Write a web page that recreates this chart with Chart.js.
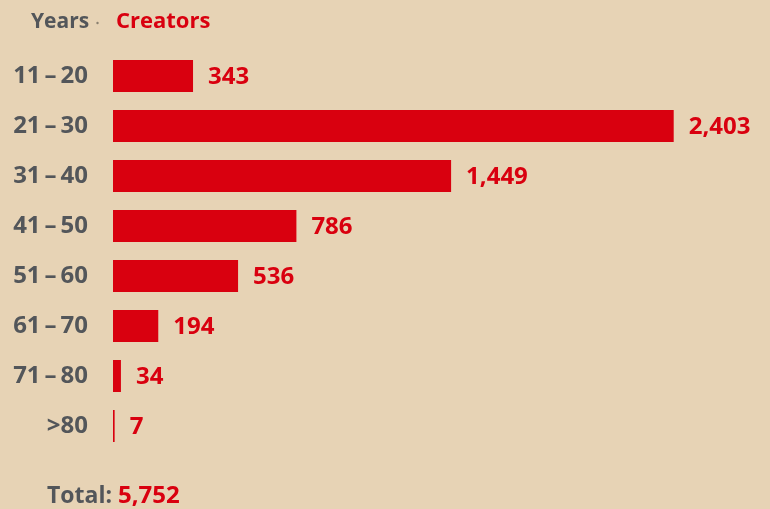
<!DOCTYPE html>
<html>
<head>
<meta charset="utf-8">
<script src="https://cdn.jsdelivr.net/npm/chart.js@4"></script>
<style>
  html, body { margin: 0; padding: 0; background: #e6d2b4; }
  #wrap { width: 770px; height: 509px; position: relative; }
</style>
</head>
<body>
<div id="wrap"><canvas id="c" width="770" height="509"></canvas></div>
<script>
const categories = ['11\u2009–\u200920', '21\u2009–\u200930', '31\u2009–\u200940', '41\u2009–\u200950', '51\u2009–\u200960', '61\u2009–\u200970', '71\u2009–\u200980', '>80'];
const creators = [343, 2403, 1449, 786, 536, 194, 34, 7];
const headerLeft = 'Years';
const headerRight = 'Creators';
const totalLabel = 'Total:';
const totalValue = 5752;

const RED = '#d9000f';
const GRAY = '#53565a';
const FONT = "'Open Sans', 'Noto Sans', sans-serif";

const bgPlugin = {
  id: 'bg',
  beforeDraw(chart) {
    const ctx = chart.ctx;
    ctx.save();
    ctx.fillStyle = '#e7d3b5';
    ctx.fillRect(0, 0, chart.width, chart.height);
    ctx.restore();
  }
};

const labelPlugin = {
  id: 'labels',
  afterDatasetsDraw(chart) {
    const ctx = chart.ctx;
    const meta = chart.getDatasetMeta(0);
    ctx.save();
    ctx.font = 'bold 24px ' + FONT;
    ctx.fillStyle = RED;
    ctx.textBaseline = 'middle';
    ctx.textAlign = 'left';
    meta.data.forEach((el, i) => {
      ctx.fillText(creators[i].toLocaleString('en-US'), el.x + 15, el.y + 1);
    });
    // header
    ctx.textBaseline = 'alphabetic';
    ctx.font = 'bold 21px ' + FONT;
    ctx.fillStyle = GRAY;
    ctx.fillText(headerLeft, 31, 28);
    ctx.font = 'bold 22px ' + FONT;
    ctx.fillStyle = RED;
    ctx.fillText(headerRight, 116, 28);
    ctx.fillStyle = '#8a8070';
    ctx.beginPath();
    ctx.arc(97.5, 23, 1.2, 0, Math.PI * 2);
    ctx.fill();
    // total
    ctx.font = 'bold 23px ' + FONT;
    ctx.fillStyle = GRAY;
    ctx.fillText(totalLabel, 47, 503);
    const w = ctx.measureText(totalLabel + ' ').width;
    ctx.font = 'bold 24px ' + FONT;
    ctx.fillStyle = RED;
    ctx.fillText(totalValue.toLocaleString('en-US'), 47 + w, 503);
    ctx.restore();
  }
};

new Chart(document.getElementById('c'), {
  type: 'bar',
  data: {
    labels: categories,
    datasets: [{
      data: creators,
      backgroundColor: RED,
      borderWidth: 0,
      barPercentage: 0.8,
      categoryPercentage: 0.8
    }]
  },
  options: {
    indexAxis: 'y',
    responsive: false,
    animation: false,
    devicePixelRatio: 1,
    layout: { padding: { top: 51, bottom: 58, left: 0, right: 27 } },
    plugins: { legend: { display: false }, tooltip: { enabled: false } },
    scales: {
      x: {
        display: false,
        min: 0,
        max: 2700
      },
      y: {
        grid: { display: false, drawTicks: false },
        border: { display: false },
        ticks: {
          color: GRAY,
          font: { family: FONT, size: 24, weight: 'bold' },
          padding: 25
        },
        afterFit(scale) { scale.width = 113; }
      }
    }
  },
  plugins: [bgPlugin, labelPlugin]
});
</script>
</body>
</html>
